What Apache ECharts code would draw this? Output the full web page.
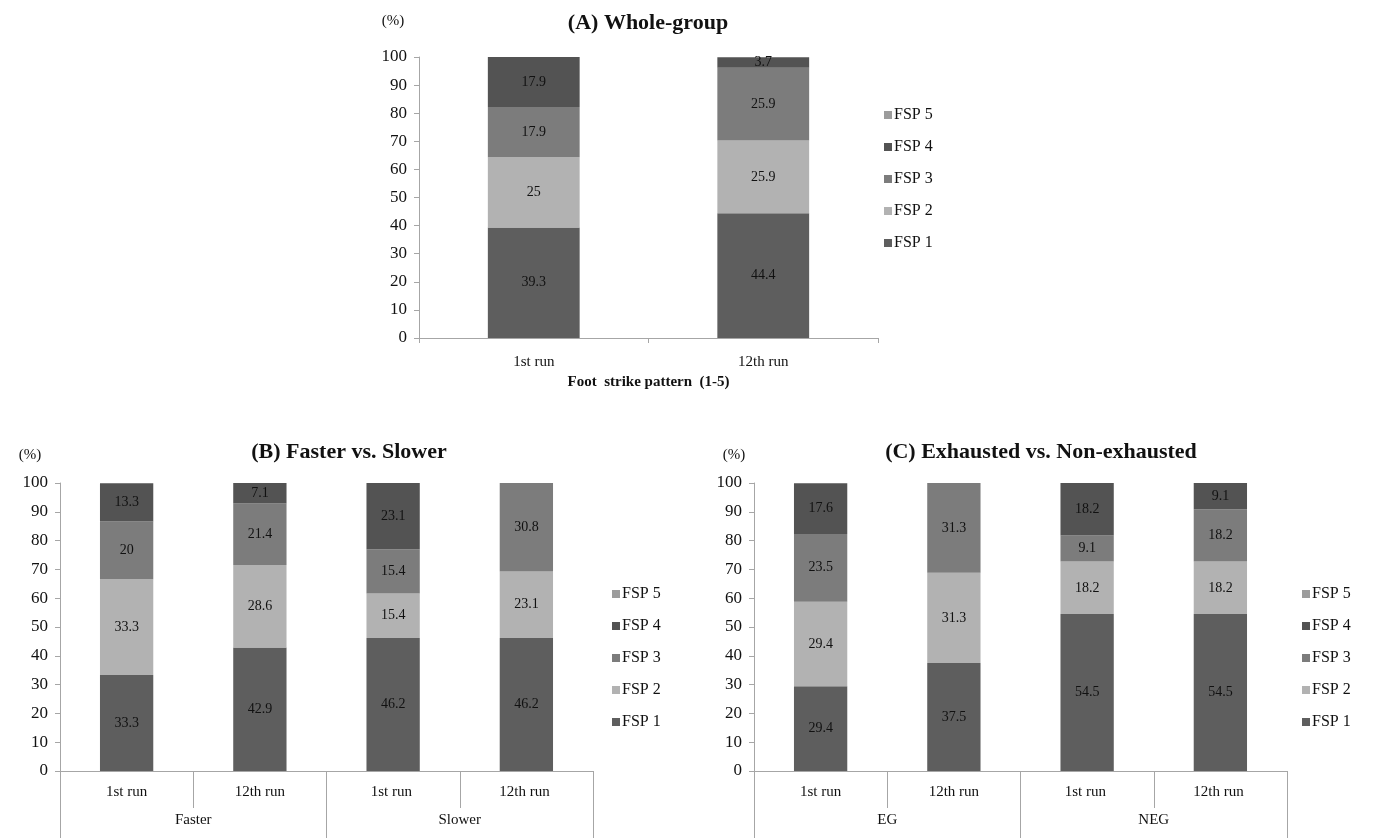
<!DOCTYPE html>
<html>
<head>
<meta charset="utf-8">
<script src="https://cdn.jsdelivr.net/npm/echarts@6/dist/echarts.min.js"></script>
<style>
  html, body { margin: 0; padding: 0; background: #fff; }
  #chart { width: 1375px; height: 838px; }
</style>
</head>
<body>
<div id="chart"></div>
<script>
// Foot strike pattern distribution (%) per run
const seriesNames = ['FSP 1', 'FSP 2', 'FSP 3', 'FSP 4', 'FSP 5'];
const legendOrder = ['FSP 5', 'FSP 4', 'FSP 3', 'FSP 2', 'FSP 1'];
const colors = ['#5e5e5e', '#b2b2b2', '#7c7c7c', '#535353', '#9c9c9c'];

// (A) Whole-group
const runsA = ['1st run', '12th run'];
const fsp1A = [39.3, 44.4];
const fsp2A = [25, 25.9];
const fsp3A = [17.9, 25.9];
const fsp4A = [17.9, 3.7];
const fsp5A = [0, 0];

// (B) Faster vs. Slower
const runsB = ['1st run', '12th run', '1st run ', '12th run '];
const groupsB = ['Faster', 'Slower'];
const fsp1B = [33.3, 42.9, 46.2, 46.2];
const fsp2B = [33.3, 28.6, 15.4, 23.1];
const fsp3B = [20, 21.4, 15.4, 30.8];
const fsp4B = [13.3, 7.1, 23.1, 0];
const fsp5B = [0, 0, 0, 0];

// (C) Exhausted vs. Non-exhausted
const runsC = ['1st run', '12th run', '1st run ', '12th run '];
const groupsC = ['EG', 'NEG'];
const fsp1C = [29.4, 37.5, 54.5, 54.5];
const fsp2C = [29.4, 31.3, 18.2, 18.2];
const fsp3C = [23.5, 31.3, 9.1, 18.2];
const fsp4C = [17.6, 0, 18.2, 9.1];
const fsp5C = [0, 0, 0, 0];

const yTicks = { min: 0, max: 100, interval: 10 };

const FONT = '"Liberation Serif", "Times New Roman", serif';
const AXIS_COLOR = '#a6a6a6';
const TEXT_COLOR = '#111111';

function yAxis(gridIndex) {
  return {
    type: 'value', gridIndex,
    min: yTicks.min, max: yTicks.max, interval: yTicks.interval,
    axisLine: { show: true, lineStyle: { color: AXIS_COLOR } },
    axisTick: { show: true, length: 5, lineStyle: { color: AXIS_COLOR } },
    splitLine: { show: false },
    axisLabel: { fontFamily: FONT, fontSize: 17, color: TEXT_COLOR, margin: 12 }
  };
}

function stackSeries(gridIndex, stack, cols) {
  return cols.map((vals, i) => ({
    name: seriesNames[i],
    type: 'bar',
    stack,
    xAxisIndex: gridIndex === 0 ? 0 : (gridIndex === 1 ? 1 : 3),
    yAxisIndex: gridIndex,
    barWidth: '40%',
    itemStyle: { color: colors[i] },
    data: vals,
    label: {
      show: true, position: 'inside',
      fontFamily: FONT, fontSize: 14, color: TEXT_COLOR,
      formatter: p => (p.value ? String(p.value) : '')
    }
  }));
}

function legend(left, top) {
  return {
    data: legendOrder, orient: 'vertical', left, top,
    itemWidth: 8, itemHeight: 8, itemGap: 16,
    icon: 'rect',
    textStyle: { fontFamily: FONT, fontSize: 16, color: TEXT_COLOR, padding: [0, 0, 0, -3] },
    selectedMode: false
  };
}

function runAxis(gridIndex, data) {
  return {
    type: 'category', gridIndex, data, position: 'bottom',
    axisLine: { show: true, lineStyle: { color: AXIS_COLOR } },
    axisTick: { show: true, length: 37, lineStyle: { color: AXIS_COLOR } },
    axisLabel: { fontFamily: FONT, fontSize: 15, color: TEXT_COLOR, margin: 14 }
  };
}

function groupAxis(gridIndex, data) {
  return {
    type: 'category', gridIndex, data, position: 'bottom',
    axisLine: { show: false },
    axisTick: { show: true, length: 67, lineStyle: { color: AXIS_COLOR } },
    axisLabel: { fontFamily: FONT, fontSize: 15, color: TEXT_COLOR, margin: 42 }
  };
}

const titleStyle = { fontFamily: FONT, fontSize: 22, fontWeight: 'bold', color: TEXT_COLOR };
const unitStyle = { fontFamily: FONT, fontSize: 15, fontWeight: 'normal', color: TEXT_COLOR };

const option = {
  backgroundColor: '#ffffff',
  animation: false,
  title: [
    { text: '(A) Whole-group', left: 643, top: 7, textAlign: 'center', textStyle: titleStyle },
    { text: '(%)', left: 388, top: 9, textAlign: 'center', textStyle: unitStyle },
    { text: '(B) Faster vs. Slower', left: 344, top: 436, textAlign: 'center', textStyle: titleStyle },
    { text: '(%)', left: 25, top: 443, textAlign: 'center', textStyle: unitStyle },
    { text: '(C) Exhausted vs. Non-exhausted', left: 1036, top: 436, textAlign: 'center', textStyle: titleStyle },
    { text: '(%)', left: 729, top: 443, textAlign: 'center', textStyle: unitStyle }
  ],
  legend: [legend(879, 102), legend(607, 581), legend(1297, 581)],
  grid: [
    { left: 419, top: 57, width: 459, height: 281 },
    { left: 60, top: 483, width: 533, height: 288 },
    { left: 754, top: 483, width: 533, height: 288 }
  ],
  xAxis: [
    {
      type: 'category', gridIndex: 0, data: runsA,
      axisLine: { show: true, lineStyle: { color: AXIS_COLOR } },
      axisTick: { show: true, length: 5, lineStyle: { color: AXIS_COLOR } },
      axisLabel: { fontFamily: FONT, fontSize: 15, color: TEXT_COLOR, margin: 17 },
      name: 'Foot  strike pattern  (1-5)',
      nameLocation: 'middle', nameGap: 37,
      nameTextStyle: { fontFamily: FONT, fontSize: 15, fontWeight: 'bold', color: TEXT_COLOR }
    },
    runAxis(1, runsB),
    groupAxis(1, groupsB),
    runAxis(2, runsC),
    groupAxis(2, groupsC)
  ],
  yAxis: [yAxis(0), yAxis(1), yAxis(2)],
  series: [
    ...stackSeries(0, 'A', [fsp1A, fsp2A, fsp3A, fsp4A, fsp5A]),
    ...stackSeries(1, 'B', [fsp1B, fsp2B, fsp3B, fsp4B, fsp5B]),
    ...stackSeries(2, 'C', [fsp1C, fsp2C, fsp3C, fsp4C, fsp5C])
  ]
};

const chart = echarts.init(document.getElementById('chart'), null, { renderer: 'canvas' });
chart.setOption(option);
</script>
</body>
</html>
